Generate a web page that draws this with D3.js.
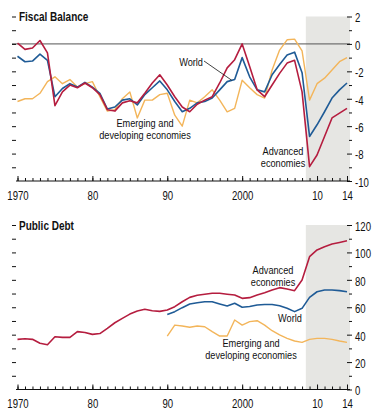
<!DOCTYPE html>
<html>
<head>
<meta charset="utf-8">
<script src="https://cdn.jsdelivr.net/npm/d3@7"></script>
<style>
  body { margin: 0; background: #fff; }
  svg { display: block; font-family: "Liberation Sans", Arial, sans-serif; }
  .tick text { font-size: 12px; fill: #111; }
  .tick line { stroke: #111; }
  .title { font-size: 12.5px; font-weight: bold; fill: #111; }
  .note { font-size: 11.5px; fill: #111; }
</style>
</head>
<body>
<div id="chart"></div>
<script>
// years 1970-2014
var years = d3.range(1970, 2015);

// Fiscal balance, percent of GDP
var fiscalAdvanced = [0.05, -0.4, -0.3, 0.25, -0.65, -4.5, -3.5, -3.0, -3.2, -2.85,
  -3.2, -3.7, -4.8, -4.9, -4.3, -4.15, -4.3, -3.6, -2.85, -2.25,
  -3.0, -3.85, -4.6, -4.95, -4.4, -4.1, -3.85, -2.85, -1.75, -1.15,
  0.0, -1.65, -3.35, -3.85, -3.0, -2.15, -1.4, -1.2, -3.5, -8.95,
  -8.1, -6.75, -5.4, -5.05, -4.7];
var fiscalWorld = [-0.9, -1.3, -1.25, -0.75, -1.2, -3.85, -3.25, -2.9, -3.15, -2.8,
  -3.15, -3.6, -4.75, -4.6, -4.1, -4.0, -4.45, -3.7, -3.2, -2.7,
  -3.35, -4.2, -4.95, -4.7, -4.3, -4.2, -3.95, -3.35, -2.75, -2.6,
  -1.0, -2.4, -3.35, -3.5, -2.25, -1.5, -0.8, -0.6, -2.1, -6.75,
  -5.9, -4.95, -3.95, -3.35, -2.85];
var fiscalEmerging = [-4.2, -4.0, -4.0, -3.6, -2.75, -2.4, -2.9, -2.6, -3.15, -2.9,
  -2.75, -3.85, -4.9, -4.8, -4.0, -3.5, -5.4, -4.1, -4.1, -3.7,
  -3.6, -5.2, -6.0, -4.1, -4.3, -3.85, -3.35, -4.1, -4.95, -4.7,
  -2.65, -3.2, -3.7, -3.95, -1.9, -0.45, 0.3, 0.35, -0.5, -4.1,
  -2.9, -2.5, -1.9, -1.3, -1.0];

// Public debt, percent of GDP (world and emerging start in 1990)
var debtAdvanced = [36.6, 37, 36.6, 33.7, 32.7, 38.5, 38, 38, 42.2, 41.6,
  40.2, 40.8, 44.6, 48.7, 51.9, 55, 57.3, 58.5, 57.5, 57,
  58, 60.4, 64, 67.2, 68.7, 69.5, 70.2, 70.2, 69.5, 68.9,
  66.5, 67, 69, 70.6, 72.6, 74.3, 73.3, 72.1, 79.9, 96.9,
  101.8, 104.2, 106.1, 107.3, 108.5];
var debtWorld = [null, null, null, null, null, null, null, null, null, null,
  null, null, null, null, null, null, null, null, null, null,
  54.8, 56.8, 59.7, 62.4, 63.3, 64, 64, 62.4, 60.9, 62.9,
  60, 60.5, 61.6, 62, 62, 61.1, 59.2, 56.8, 59.2, 67.2,
  71.3, 72.6, 72.6, 72.1, 71.3];
var debtEmerging = [null, null, null, null, null, null, null, null, null, null,
  null, null, null, null, null, null, null, null, null, null,
  39, 47, 46.3, 45.4, 46.3, 45.8, 42.2, 39, 39, 50.7,
  47, 49.5, 50.2, 47, 42.9, 39.8, 37.3, 35.4, 34.4, 36.6,
  37.3, 37.3, 36.6, 35.4, 34.4];

var yearLabels = [1970, 1980, 1990, 2000, 2010, 2014];
var fiscalTicks = [2, 0, -2, -4, -6, -8, -10];
var debtTicks = [0, 20, 40, 60, 80, 100, 120];
var projectionStart = 2008.5;

var colors = { adv: "#b51d3f", world: "#1f5b96", emerg: "#f3b55a" };
var NARROW = 0.8; // squeeze Arial into a narrow face

var svg = d3.select("#chart").append("svg")
  .attr("width", 388)
  .attr("height", 416);

var x = d3.scaleLinear().domain([1970, 2014]).range([17.5, 347]);
var xEnd = 2014.4, xStart = 1969.8;

function yearFmt(d) {
  if (d === 1970 || d === 2000) return String(d);
  return String(d % 100).padStart(2, "0");
}

// text drawn in a horizontally squeezed box
function narrow(g, px, py, str, cls, anchor) {
  return g.append("text").attr("class", cls)
    .attr("text-anchor", anchor || "middle")
    .attr("transform", "translate(" + px + "," + py + ") scale(" + NARROW + ",1)")
    .text(str);
}

function panel(opt) {
  var y = opt.y;
  var g = svg.append("g");
  var top = y.domain()[1], bottom = y.domain()[0];

  // projection shading
  g.append("rect")
    .attr("x", x(projectionStart))
    .attr("y", y(top))
    .attr("width", x(xEnd) - x(projectionStart))
    .attr("height", y(bottom) - y(top))
    .attr("fill", "#e6e6e3");

  if (opt.zero) {
    g.append("line")
      .attr("x1", 12).attr("x2", x(xEnd))
      .attr("y1", y(0)).attr("y2", y(0))
      .attr("stroke", "#555").attr("stroke-width", 1);
  }

  // left minor dashes
  g.append("g")
    .attr("transform", "translate(12,0)")
    .call(d3.axisRight(y).tickValues(opt.leftTicks).tickSize(4).tickFormat(""))
    .call(function (a) { a.select(".domain").remove(); });

  // right axis
  g.append("g")
    .attr("transform", "translate(347,0)")
    .call(d3.axisRight(y).tickValues(opt.rightMinor).tickSize(3).tickFormat(""))
    .call(function (a) { a.select(".domain").remove(); a.selectAll("line").attr("x1", 2).attr("x2", 5); });
  g.append("g")
    .attr("transform", "translate(347,0)")
    .call(d3.axisRight(y).tickValues(opt.rightTicks).tickSize(5).tickPadding(3)
      .tickFormat(function (d) { return d < 0 ? "-" + Math.abs(d) : d; }))
    .call(function (a) {
      a.select(".domain").remove();
      a.selectAll("text")
        .attr("dy", "0.45em")
        .attr("x", 8 / NARROW)
        .attr("transform", "scale(" + NARROW + ",1)");
    });

  // bottom axis
  var base = y(bottom);
  g.append("line")
    .attr("x1", x(xStart)).attr("x2", x(xEnd))
    .attr("y1", base).attr("y2", base)
    .attr("stroke", "#111");
  g.append("g")
    .attr("transform", "translate(0," + base + ")")
    .call(d3.axisBottom(x).tickValues(years).tickSize(-3).tickFormat(""))
    .call(function (a) { a.select(".domain").remove(); });
  g.append("g")
    .attr("transform", "translate(0," + base + ")")
    .call(d3.axisBottom(x).tickValues(yearLabels).tickSize(-5).tickPadding(10).tickFormat(yearFmt))
    .call(function (a) {
      a.select(".domain").remove();
      a.selectAll("text").attr("transform", "scale(" + NARROW + ",1)");
    });

  // title
  narrow(g, 19, y(top) + 4.5, opt.title, "title", "start");

  // series
  var line = d3.line()
    .defined(function (d) { return d[1] != null; })
    .x(function (d) { return x(d[0]); })
    .y(function (d) { return y(d[1]); });

  opt.series.forEach(function (s) {
    g.append("path")
      .datum(years.map(function (yr, i) { return [yr, s.values[i]]; }))
      .attr("fill", "none")
      .attr("stroke", s.color)
      .attr("stroke-width", s.width)
      .attr("stroke-linejoin", "round")
      .attr("d", line);
  });

  opt.notes.forEach(function (n) {
    n.lines.forEach(function (l, i) {
      narrow(g, n.x, n.y + i * 11.5, l, "note", n.anchor);
    });
  });
  return g;
}

var yTop = d3.scaleLinear().domain([-10, 2]).range([181, 16.5]);
var gTop = panel({
  y: yTop,
  zero: true,
  title: "Fiscal Balance",
  leftTicks: d3.range(-9, 3),
  rightTicks: fiscalTicks,
  rightMinor: [1, -1, -3, -5, -7, -9],
  series: [
    { values: fiscalEmerging, color: colors.emerg, width: 1.4 },
    { values: fiscalWorld, color: colors.world, width: 1.6 },
    { values: fiscalAdvanced, color: colors.adv, width: 1.6 }
  ],
  notes: [
    { x: 203, y: 66, anchor: "end", lines: ["World"] },
    { x: 145, y: 127, lines: ["Emerging and", "developing economies"] },
    { x: 283, y: 155, lines: ["Advanced", "economies"] }
  ]
});
// leader from the World label to its line
gTop.append("line")
  .attr("x1", 204).attr("y1", 61)
  .attr("x2", x(1998.6)).attr("y2", yTop(-2.65))
  .attr("stroke", "#111").attr("stroke-width", 0.8);

var yBot = d3.scaleLinear().domain([0, 120]).range([389.5, 225]);
panel({
  y: yBot,
  zero: false,
  title: "Public Debt",
  leftTicks: d3.range(10, 130, 10),
  rightTicks: debtTicks,
  rightMinor: [10, 30, 50, 70, 90, 110],
  series: [
    { values: debtEmerging, color: colors.emerg, width: 1.4 },
    { values: debtWorld, color: colors.world, width: 1.6 },
    { values: debtAdvanced, color: colors.adv, width: 1.6 }
  ],
  notes: [
    { x: 273, y: 274, lines: ["Advanced", "economies"] },
    { x: 290, y: 322, lines: ["World"] },
    { x: 251, y: 347, lines: ["Emerging and", "developing economies"] }
  ]
});
</script>
</body>
</html>
